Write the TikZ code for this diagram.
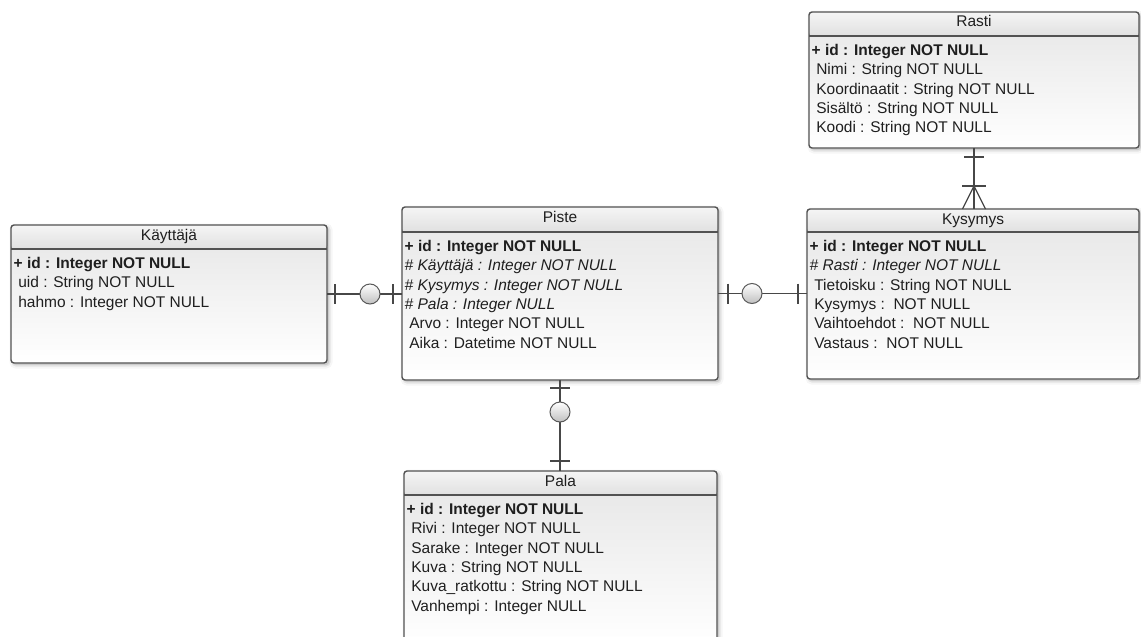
\documentclass[tikz,border=0pt]{standalone}
\usepackage{fontspec}
\setmainfont{Liberation Sans}
\usetikzlibrary{shadows,calc}
\newcommand\erind{\hspace{4.6pt}}
\tikzset{
  boxbg/.style={rectangle, rounded corners=3pt, outer sep=0pt, inner sep=0pt,
    top color=black!10, bottom color=white,
    general shadow={fill=black, draw=black, line width=7pt, opacity=0.035, shadow xshift=2pt, shadow yshift=-2pt},
    general shadow={fill=black, draw=black, line width=3pt, opacity=0.07, shadow xshift=2pt, shadow yshift=-2pt}},
  headfill/.style={top color=black!4, bottom color=black!12},
  border/.style={draw=black!68, line width=1.4pt},
  titletext/.style={anchor=base, inner sep=0pt, text=black!88, font=\fontsize{15.5}{18}\selectfont},
  rowtext/.style={anchor=base west, inner sep=0pt, text=black!88, font=\fontsize{15.5}{18}\selectfont},
  conn/.style={draw=black!72, line width=1.2pt},
  optcircle/.style={circle, minimum size=20pt, inner sep=0pt, draw=black!65, line width=1pt, top color=white, bottom color=black!25},
}
% #1 name, #2 left, #3 top, #4 right, #5 bottom, #6 header line y, #7 title
\newcommand\erentity[7]{%
  \node[boxbg, anchor=north west, minimum width={(#4-#2)*1pt}, minimum height={(#5-#3)*1pt}] (#1) at (#2,#3) {};
  \fill[headfill, rounded corners=3pt] (#1.north west) rectangle (#1.east |- 0,#6);
  \draw[border, rounded corners=3pt] (#1.north west) rectangle (#1.south east);
  \draw[border] (#1.west |- 0,#6) -- (#1.east |- 0,#6);
  \node[titletext] (#1-t) at ({(#2+#4)/2},{#3+15}) {#7};
}
% #1 name, #2 left, #3 header line y, #4 rows
\newcommand\errows[4]{%
  \foreach \rowtxt [count=\i] in {#4}
    \node[rowtext] (#1-r\i) at ({#2+2.5},{#3+19.3+19.4*(\i-1)}) {\rowtxt};
}
\begin{document}
\begin{tikzpicture}[x=1pt,y=-1pt]
\fill[white] (0,0) rectangle (1141,637);
\useasboundingbox (0,0) rectangle (1141,637);

\erentity{kay}{11}{225}{327}{363}{249}{Käyttäjä}
\errows{kay}{11}{249}{{\textbf{+ id : Integer NOT NULL}},{\erind uid : String NOT NULL},{\erind hahmo : Integer NOT NULL}}

\erentity{piste}{402}{207}{718}{380}{232}{Piste}
\errows{piste}{402}{232}{{\textbf{+ id : Integer NOT NULL}},{\textit{\# Käyttäjä : Integer NOT NULL}},{\textit{\# Kysymys : Integer NOT NULL}},{\textit{\# Pala : Integer NULL}},{\erind Arvo : Integer NOT NULL},{\erind Aika : Datetime NOT NULL}}

\erentity{rasti}{809}{12}{1139}{148}{36}{Rasti}
\errows{rasti}{809}{36}{{\textbf{+ id : Integer NOT NULL}},{\erind Nimi : String NOT NULL},{\erind Koordinaatit : String NOT NULL},{\erind Sisältö : String NOT NULL},{\erind Koodi : String NOT NULL}}

\erentity{kys}{807}{209}{1139}{379}{232}{Kysymys}
\errows{kys}{807}{232}{{\textbf{+ id : Integer NOT NULL}},{\textit{\# Rasti : Integer NOT NULL}},{\erind Tietoisku : String NOT NULL},{\erind Kysymys :\ \ NOT NULL},{\erind Vaihtoehdot :\ \ NOT NULL},{\erind Vastaus :\ \ NOT NULL}}

\erentity{pala}{404}{471}{717}{646}{495}{Pala}
\errows{pala}{404}{495}{{\textbf{+ id : Integer NOT NULL}},{\erind Rivi : Integer NOT NULL},{\erind Sarake : Integer NOT NULL},{\erind Kuva : String NOT NULL},{\erind Kuva\_ratkottu : String NOT NULL},{\erind Vanhempi : Integer NULL}}

% Käyttäjä -- Piste
\draw[conn] (kay.east) -- (kay.east -| piste.west);
\draw[conn] ([xshift=8pt]kay.east) ++(0,-10) -- ++(0,20);
\draw[conn] ([xshift=-9pt]kay.east -| piste.west) ++(0,-10) -- ++(0,20);
\node[optcircle] (c1) at ([xshift=43pt]kay.east) {};

% Piste -- Kysymys
\draw[conn] (piste.east) -- (piste.east -| kys.west);
\draw[conn] ([xshift=10pt]piste.east) ++(0,-10) -- ++(0,20);
\draw[conn] ([xshift=-9pt]piste.east -| kys.west) ++(0,-10) -- ++(0,20);
\node[optcircle] (c2) at ([xshift=34pt]piste.east) {};

% Piste -- Pala
\draw[conn] (piste.south) -- (piste.south |- pala.north);
\draw[conn] ([yshift=-8pt]piste.south) ++(-10,0) -- ++(20,0);
\draw[conn] ([yshift=10pt]piste.south |- pala.north) ++(-10,0) -- ++(20,0);
\node[optcircle] (c3) at ([yshift=-32pt]piste.south) {};

% Rasti -- Kysymys
\draw[conn] (rasti.south) -- (rasti.south |- kys.north);
\draw[conn] ([yshift=-9pt]rasti.south) ++(-10,0) -- ++(20,0);
\coordinate (crow) at ([yshift=-38pt]rasti.south);
\draw[conn] (crow) ++(-12,0) -- ++(24,0);
\draw[conn] ([xshift=-11.5pt]rasti.south |- kys.north) -- (crow) -- ([xshift=11.5pt]rasti.south |- kys.north);
\end{tikzpicture}
\end{document}
